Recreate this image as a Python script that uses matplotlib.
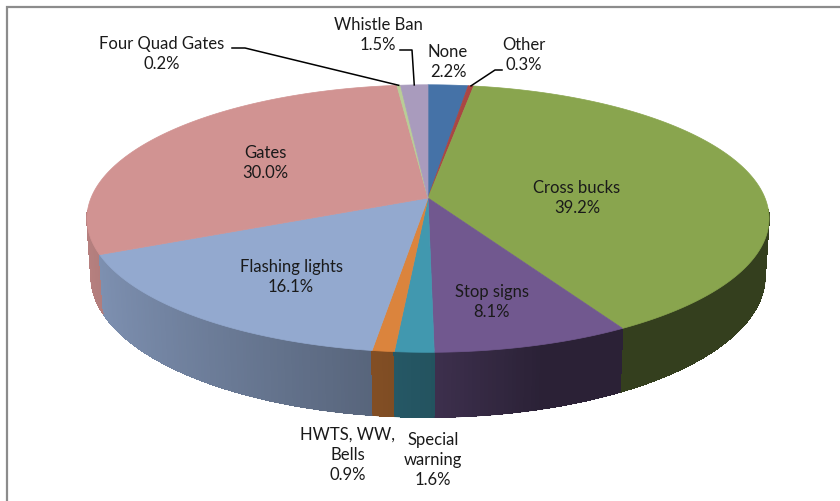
import matplotlib.pyplot as plt
import numpy as np
from matplotlib.patches import Polygon
from matplotlib.collections import PolyCollection, LineCollection
from matplotlib.colors import to_rgb

plt.rcParams['font.family'] = ['Lato', 'DejaVu Sans']

# crossing warning devices, share of crossings (%)
labels = ['None', 'Other', 'Cross bucks', 'Stop signs', 'Special\nwarning',
          'HWTS, WW,\nBells', 'Flashing lights', 'Gates', 'Four Quad Gates', 'Whistle Ban']
shares = [2.2, 0.3, 39.2, 8.1, 1.6, 0.9, 16.1, 30.0, 0.2, 1.5]
colors = ['#4572A7', '#AA4643', '#89A54E', '#71588F', '#4198AF',
          '#DB843D', '#93A9CF', '#D19392', '#B9CD96', '#A99BBD']

# 3d pie camera
ELEV = np.radians(22.8)
DIST = 6.0
THICK = 0.185
SCALE = 2022
CX, CY = 428, 198

# label centres (px) and leader lines for the small slices
label_pos = {
    'None': (448, 62), 'Other': (524, 55), 'Cross bucks': (577, 198),
    'Stop signs': (492, 302), 'Special\nwarning': (433, 460),
    'HWTS, WW,\nBells': (348, 455), 'Flashing lights': (291, 277),
    'Gates': (265, 163), 'Four Quad Gates': (162, 54), 'Whistle Ban': (378, 35),
}
leaders = {
    'Four Quad Gates': [(232, 48), (245, 48)],
    'Whistle Ban': [(400, 50), (412, 50)],
    'Other': [(502, 70), (495, 70)],
}


def project(x, y, z):
    c, s = np.cos(ELEV), np.sin(ELEV)
    d = DIST - y * c - z * s
    return CX + SCALE * x / d, CY - SCALE * (-y * s + z * c) / d


def side_shade(x):
    # light comes from the left
    return np.where(x < 0, 0.55 - 0.33 * x, np.maximum(0.38, 0.55 - 0.6 * x))


fig = plt.figure(figsize=(8.4, 5.01), dpi=100)
ax = fig.add_axes([0, 0, 1, 1])
ax.set_xlim(0, 840)
ax.set_ylim(501, 0)
ax.axis('off')

edges = np.concatenate([[0], np.cumsum(shares)]) / sum(shares) * 2 * np.pi

# outer wall: only the front half shows, drawn back to front
quads, rim = [], []
for i, col in enumerate(colors):
    n = max(3, int((edges[i + 1] - edges[i]) / 0.01))
    a = np.linspace(edges[i], edges[i + 1], n)
    for a0, a1 in zip(a[:-1], a[1:]):
        x0, y0 = np.sin(a0), -np.cos(a0)
        x1, y1 = np.sin(a1), -np.cos(a1)
        if max(y0, y1) < 0.1:
            continue
        k = float(side_shade((x0 + x1) / 2))
        fc = tuple(np.clip(np.array(to_rgb(col)) * k, 0, 1))
        pts = [project(x0, y0, 0), project(x1, y1, 0),
               project(x1, y1, -THICK), project(x0, y0, -THICK)]
        quads.append(((y0 + y1) / 2, pts, fc,
                      [project(x0, y0, -THICK), project(x1, y1, -THICK)]))
quads.sort(key=lambda q: q[0])
ax.add_collection(PolyCollection([q[1] for q in quads], facecolors=[q[2] for q in quads],
                                 edgecolors=[q[2] for q in quads], linewidths=0.5,
                                 antialiaseds=False))
# smooth lower rim of the wall
ax.add_collection(LineCollection([q[3] for q in quads], colors=[q[2] for q in quads],
                                 linewidths=0.9, capstyle='round'))

# top face
for i, col in enumerate(colors):
    a = np.linspace(edges[i], edges[i + 1], max(3, int((edges[i + 1] - edges[i]) / 0.005)))
    px, py = project(np.sin(a), -np.cos(a), 0 * a)
    pts = [project(0, 0, 0)] + list(zip(px, py))
    ax.add_patch(Polygon(pts, closed=True, facecolor=col, edgecolor=col, lw=0.5))

# labels
for i, (lab, v) in enumerate(zip(labels, shares)):
    x, y = label_pos[lab]
    ax.text(x, y, f'{lab}\n{v:.1f}%', ha='center', va='center', fontsize=12,
            color='#1a1a1a', linespacing=1.3)
    if lab in leaders:
        mid = (edges[i] + edges[i + 1]) / 2
        ex, ey = project(np.sin(mid), -np.cos(mid), 0)
        path = leaders[lab] + [(ex, ey)]
        ax.plot([p[0] for p in path], [p[1] for p in path], color='black', lw=1.1)

# chart frame
ax.plot([7, 7, 840], [501, 7, 7], color='#8c8c8c', lw=1.6, solid_joinstyle='miter')

fig.savefig('out.png', dpi=100)
